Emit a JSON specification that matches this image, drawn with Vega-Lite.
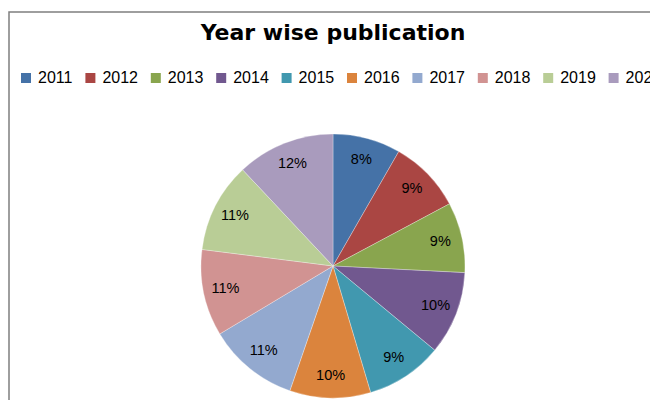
{
  "$schema": "https://vega.github.io/schema/vega-lite/v6.json",
  "autosize": {"type": "none"},
  "width": 648,
  "height": 508,
  "padding": {"left": 9, "top": 12, "right": 0, "bottom": 0},
  "background": "white",
  "view": {"stroke": "#7f7f7f", "strokeWidth": 1.5, "fill": "white"},
  "config": {
    "font": "Liberation Sans"
  },
  "title": {
    "text": "Year wise publication",
    "font": "DejaVu Sans",
    "fontSize": 22,
    "fontWeight": "bold",
    "color": "#000000",
    "anchor": "middle",
    "frame": "group",
    "baseline": "alphabetic",
    "offset": -50
  },
  "data": {
    "values": [
      {"year": "2011", "value": 8.3, "label": "8%"},
      {"year": "2012", "value": 8.9, "label": "9%"},
      {"year": "2013", "value": 8.6, "label": "9%"},
      {"year": "2014", "value": 10.2, "label": "10%"},
      {"year": "2015", "value": 9.4, "label": "9%"},
      {"year": "2016", "value": 9.9, "label": "10%"},
      {"year": "2017", "value": 11.1, "label": "11%"},
      {"year": "2018", "value": 10.6, "label": "11%"},
      {"year": "2019", "value": 11.0, "label": "11%"},
      {"year": "2020", "value": 12.0, "label": "12%"}
    ]
  },
  "encoding": {
    "theta": {"field": "value", "type": "quantitative", "stack": true},
    "order": {"field": "year", "type": "ordinal"}
  },
  "layer": [
    {
      "mark": {"type": "arc", "outerRadius": 132, "stroke": "#ffffff", "strokeWidth": 0.3},
      "encoding": {
        "color": {
          "field": "year",
          "type": "nominal",
          "scale": {
            "domain": ["2011","2012","2013","2014","2015","2016","2017","2018","2019","2020"],
            "range": ["#4572A7","#AA4643","#89A54E","#71588F","#4198AF","#DB843D","#93A9CF","#D19392","#B9CD96","#A99BBD"]
          },
          "legend": {
            "title": null,
            "orient": "none",
            "direction": "horizontal",
            "columns": 10,
            "legendX": 9,
            "legendY": 58,
            "padding": 0,
            "symbolType": "square",
            "symbolSize": 100,
            "symbolStrokeWidth": 0,
            "symbolOpacity": 1,
            "labelFontSize": 16,
            "labelFont": "Liberation Sans",
            "labelColor": "#000000",
            "labelOffset": 4,
            "columnPadding": 9.4
          }
        }
      }
    },
    {
      "mark": {"type": "text", "radius": 110, "fontSize": 14.5, "color": "#000000", "font": "Liberation Sans"},
      "encoding": {
        "text": {"field": "label", "type": "nominal"}
      }
    }
  ]
}
